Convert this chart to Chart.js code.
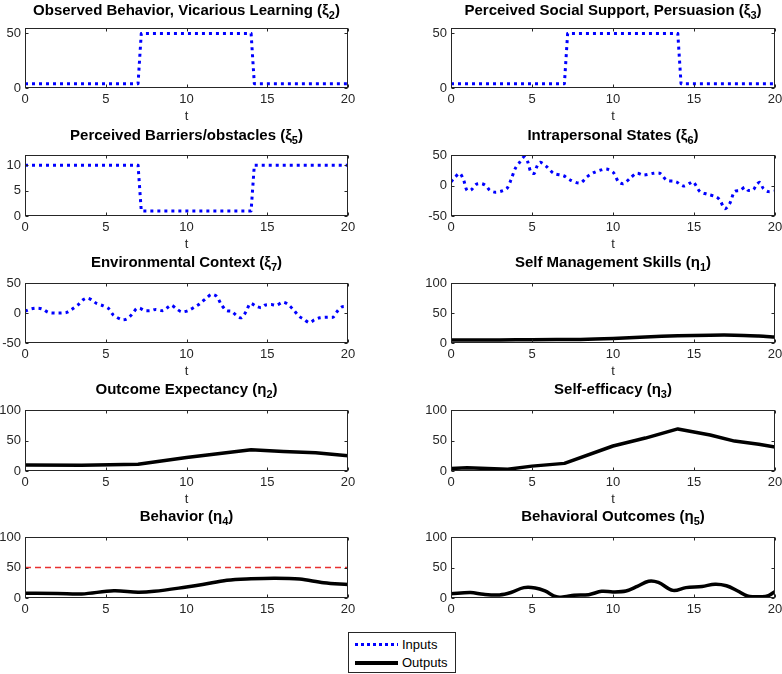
<!DOCTYPE html>
<html>
<head>
<meta charset="utf-8">
<script src="https://cdn.jsdelivr.net/npm/chart.js@4"></script>
<style>
  body { margin: 0; background: #fff; width: 782px; height: 674px; overflow: hidden; position: relative; font-family: "Liberation Sans", Arial, sans-serif; }
  canvas.panel { position: absolute; }
  #legend { position: absolute; left: 348px; top: 632px; width: 106px; height: 39px; border: 1px solid #262626; background: #fff; }
  #legend .row { position: absolute; left: 0; height: 16px; font-size: 13px; color: #000; }
  #legend .sw { position: absolute; left: 6px; width: 43px; }
  #legend .lbl { position: absolute; left: 53px; top: 0; line-height: 16px; white-space: nowrap; }
</style>
</head>
<body>

<div id="legend">
  <div class="row" style="top:4px"><div class="sw" style="top:6px;height:3px;background:repeating-linear-gradient(90deg,#0000ff 0 3px,transparent 3px 6px)"></div><span class="lbl">Inputs</span></div>
  <div class="row" style="top:22px"><div class="sw" style="top:6px;height:4px;background:#000"></div><span class="lbl">Outputs</span></div>
</div>

<script>
// time axis ticks
const xTicks = [0, 5, 10, 15, 20];

// step inputs
const stepT = [0, 7, 7.2, 14, 14.2, 20];
const observedBehavior = [4, 4, 50, 50, 4, 4];
const socialSupport = [4, 4, 50, 50, 4, 4];
const perceivedBarriers = [10, 10, 1, 1, 10, 10];

// noisy inputs
const intraT = [0, 0.27, 0.53, 0.78, 0.99, 1.25, 1.56, 1.9, 2.18, 2.4, 2.73, 3.14, 3.45, 3.7, 3.97, 4.27, 4.52, 4.73, 4.93, 5.14,
  5.3, 5.5, 5.9, 6.33, 6.95, 7.36, 7.97, 8.39, 8.8, 9.2, 9.6, 10.03, 10.34, 10.65, 11.06, 11.47, 11.88, 12.5, 12.9, 13.3,
  13.9, 14.35, 14.76, 14.96, 15.37, 15.79, 16.4, 16.6, 16.9, 17.2, 17.5, 17.84, 18.15, 18.35, 18.66, 18.87, 19.07, 19.28, 19.6, 20];
const intrapersonal = [6, 14, 20, 9, -8, -7, 2, 3, -1, -8, -11, -9, -5, 9, 28, 39, 47, 39, 22, 20,
  31, 38, 31, 20, 16, 9, 4, 14, 21, 25, 27, 21, 6, 3, 12, 20, 17, 20, 20, 9,
  6, -1, 4, 6, -10, -14, -19, -24, -38, -30, -10, -8, -3, -8, -7, 2, 5, -5, -10, -9];

const envT = [0, 0.41, 0.82, 1.13, 1.44, 1.86, 2.27, 2.58, 2.89, 3.3, 3.6, 3.86, 4.12, 4.43, 4.85, 5.15, 5.46, 5.98, 6.29, 6.6,
  6.9, 7.1, 7.4, 7.8, 8.1, 8.55, 8.87, 9.07, 9.38, 9.7, 10.1, 10.5, 10.8, 11.24, 11.55, 11.86, 12.16, 12.47, 12.78, 13.09,
  13.4, 13.7, 13.96, 14.33, 14.64, 14.85, 15.26, 15.57, 15.98, 16.3, 16.6, 17.0, 17.3, 17.6, 17.94, 18.25, 18.76, 19.07, 19.28, 19.6, 20];
const environment = [3, 7, 8, 6, 1, 0, 0, 1, 6, 14, 22, 25, 22, 16, 12, 8, -3, -11, -10, -3,
  7, 8, 4, 4, 6, 4, 10, 13, 7, 2, 4, 10, 15, 25, 31, 28, 14, 4, 3, -4,
  -8, 3, 16, 11, 9, 13, 14, 13, 18, 14, 6, -6, -11, -16, -11, -8, -7, -7, 1, 10, 11];

// outputs
const selfMgmtT = [0, 3, 5, 8, 10, 12, 14, 16, 17.5, 19, 20];
const selfMgmt = [5, 5, 5.5, 6, 7.5, 10, 12, 13, 13, 11.5, 10];
const outcomeExpT = [0, 3.5, 7, 10, 14, 16, 18, 20];
const outcomeExp = [10, 9.5, 11, 22, 35, 32, 30, 25];
const selfEffT = [0, 1, 3.5, 5, 7, 10, 12, 14, 16, 17.5, 19, 20];
const selfEff = [4, 5.5, 3, 8, 12.5, 41, 54, 69, 59, 49, 44, 39.5];
const behaviorT = [0, 2, 3.5, 5.5, 7, 8, 10, 11, 12.5, 14, 15.5, 17, 18.5, 20];
const behavior = [7.7, 7.5, 6.5, 12, 9.5, 11, 18, 22, 29, 31.5, 32.5, 31, 25, 22];
const behaviorTargetT = [0, 20];
const behaviorTarget = [50, 50];
const outcomesT = [0, 1.2, 2, 3, 3.7, 4.5, 5.2, 5.8, 6.5, 7, 7.6, 8.5, 9.3, 10, 10.8, 11.5, 12.2, 12.8, 13.7, 14.5,
  15.5, 16.3, 17, 17.7, 18.3, 19.2, 19.6, 20];
const behavioralOutcomes = [7, 9, 6, 5, 9, 17, 16.5, 11.5, 2, 2, 4.5, 5.5, 11, 10, 11.5, 19, 27.5, 25.5, 12.5, 17,
  19, 22.5, 20, 11.5, 3.5, 2, 4, 10.5];

const FONT = '"Liberation Sans", Arial, sans-serif';

// plot rectangles of the figure
const cols = [{ left: 25, right: 348, padL: 25, padR: 12 }, { left: 451, right: 775, padL: 50, padR: 7 }];
const rows = [
  { top: 28, bottom: 88, titleGap: 13 },
  { top: 155, bottom: 216, titleGap: 15 },
  { top: 283, bottom: 343, titleGap: 16 },
  { top: 410, bottom: 471, titleGap: 16 },
  { top: 537, bottom: 598, titleGap: 16 }
];

const inputStyle = { borderColor: '#0000ff', borderWidth: 3, borderDash: [3, 4] };
const outputStyle = { borderColor: '#000000', borderWidth: 3.5 };

const panels = [
  { row: 0, col: 0, title: ['Observed Behavior, Vicarious Learning (ξ', '2', ')'], yMin: 0, yMax: 55, yTicks: [0, 50],
    series: [{ t: stepT, v: observedBehavior, style: inputStyle }] },
  { row: 0, col: 1, title: ['Perceived Social Support, Persuasion (ξ', '3', ')'], yMin: 0, yMax: 55, yTicks: [0, 50],
    series: [{ t: stepT, v: socialSupport, style: inputStyle }] },
  { row: 1, col: 0, title: ['Perceived Barriers/obstacles (ξ', '5', ')'], yMin: 0, yMax: 12, yTicks: [0, 5, 10],
    series: [{ t: stepT, v: perceivedBarriers, style: inputStyle }] },
  { row: 1, col: 1, title: ['Intrapersonal States (ξ', '6', ')'], yMin: -50, yMax: 50, yTicks: [-50, 0, 50],
    series: [{ t: intraT, v: intrapersonal, style: inputStyle, tension: 0.3 }] },
  { row: 2, col: 0, title: ['Environmental Context (ξ', '7', ')'], yMin: -50, yMax: 50, yTicks: [-50, 0, 50],
    series: [{ t: envT, v: environment, style: inputStyle, tension: 0.3 }] },
  { row: 2, col: 1, title: ['Self Management Skills (η', '1', ')'], yMin: 0, yMax: 100, yTicks: [0, 50, 100],
    series: [{ t: selfMgmtT, v: selfMgmt, style: outputStyle, tension: 0.3 }] },
  { row: 3, col: 0, title: ['Outcome Expectancy (η', '2', ')'], yMin: 0, yMax: 100, yTicks: [0, 50, 100],
    series: [{ t: outcomeExpT, v: outcomeExp, style: outputStyle }] },
  { row: 3, col: 1, title: ['Self-efficacy (η', '3', ')'], yMin: 0, yMax: 100, yTicks: [0, 50, 100],
    series: [{ t: selfEffT, v: selfEff, style: outputStyle }] },
  { row: 4, col: 0, title: ['Behavior (η', '4', ')'], yMin: 0, yMax: 100, yTicks: [0, 50, 100], noXLabel: true,
    series: [
      { t: behaviorTargetT, v: behaviorTarget, style: { borderColor: 'rgb(232,48,48)', borderWidth: 1.3, borderDash: [6, 4] } },
      { t: behaviorT, v: behavior, style: outputStyle, tension: 0.35 }
    ] },
  { row: 4, col: 1, title: ['Behavioral Outcomes (η', '5', ')'], yMin: 0, yMax: 100, yTicks: [0, 50, 100], noXLabel: true,
    series: [{ t: outcomesT, v: behavioralOutcomes, style: outputStyle, tension: 0.35 }] }
];

// MATLAB-like box, inward ticks and title with subscript
const matlabAxes = {
  id: 'matlabAxes',
  afterDraw(chart, args, opts) {
    const { ctx, chartArea: a } = chart;
    const x = chart.scales.x, y = chart.scales.y;
    ctx.save();
    ctx.strokeStyle = '#262626';
    ctx.lineWidth = 1;
    const L = Math.round(a.left) + 0.5, R = Math.round(a.right) - 0.5;
    const T = Math.round(a.top) + 0.5, B = Math.round(a.bottom) - 0.5;
    ctx.strokeRect(L, T, R - L, B - T);
    ctx.beginPath();
    x.ticks.forEach(t => {
      const p = Math.round(x.getPixelForValue(t.value)) + 0.5;
      ctx.moveTo(p, B); ctx.lineTo(p, B - 3);
      ctx.moveTo(p, T); ctx.lineTo(p, T + 3);
    });
    y.ticks.forEach(t => {
      const p = Math.round(y.getPixelForValue(t.value)) + 0.5;
      ctx.moveTo(L, p); ctx.lineTo(L + 3, p);
      ctx.moveTo(R, p); ctx.lineTo(R - 3, p);
    });
    ctx.stroke();

    // title
    const [pre, sub, post] = opts.text;
    const mainFont = 'bold 15px ' + FONT, subFont = 'bold 11px ' + FONT;
    ctx.font = mainFont;
    const w1 = ctx.measureText(pre).width, w3 = ctx.measureText(post).width;
    ctx.font = subFont;
    const w2 = ctx.measureText(sub).width;
    const base = a.top - opts.gap;
    let tx = (a.left + a.right) / 2 - (w1 + w2 + w3) / 2;
    ctx.fillStyle = '#000';
    ctx.textBaseline = 'alphabetic';
    ctx.textAlign = 'left';
    ctx.font = mainFont; ctx.fillText(pre, tx, base); tx += w1;
    ctx.font = subFont; ctx.fillText(sub, tx, base + 4); tx += w2;
    ctx.font = mainFont; ctx.fillText(post, tx, base);
    ctx.restore();
  }
};

panels.forEach(p => {
  const c = cols[p.col], r = rows[p.row];
  const padT = p.row === 0 ? r.top : 30;
  const padB = 36;
  const canvas = document.createElement('canvas');
  canvas.className = 'panel';
  canvas.width = (c.right - c.left) + c.padL + c.padR;
  canvas.height = (r.bottom - r.top) + padT + padB;
  canvas.style.left = (c.left - c.padL) + 'px';
  canvas.style.top = (r.top - padT) + 'px';
  document.body.insertBefore(canvas, document.getElementById('legend'));

  new Chart(canvas, {
    type: 'line',
    data: {
      datasets: p.series.map(s => ({
        data: s.t.map((tv, i) => ({ x: tv, y: s.v[i] })),
        ...s.style,
        borderCapStyle: 'butt',
        borderJoinStyle: 'round',
        pointRadius: 0,
        fill: false,
        tension: s.tension || 0
      }))
    },
    options: {
      responsive: false,
      animation: false,
      layout: { padding: { top: padT, right: c.padR, left: 0, bottom: 0 } },
      plugins: {
        legend: { display: false },
        tooltip: { enabled: false },
        matlabAxes: { text: p.title, gap: r.titleGap }
      },
      scales: {
        x: {
          type: 'linear', min: 0, max: 20,
          afterBuildTicks: s => { s.ticks = xTicks.map(v => ({ value: v })); },
          afterFit: s => { s.height = padB; s.paddingLeft = 0; s.paddingRight = 0; },
          ticks: { font: { family: FONT, size: 13 }, color: '#262626', padding: 4, maxRotation: 0, autoSkip: false },
          grid: { display: false, drawTicks: false },
          border: { display: false },
          title: { display: !p.noXLabel, text: 't', font: { family: FONT, size: 13 }, color: '#262626', padding: 0 }
        },
        y: {
          type: 'linear', min: p.yMin, max: p.yMax,
          afterBuildTicks: s => { s.ticks = p.yTicks.map(v => ({ value: v })); },
          afterFit: s => { s.width = c.padL; s.paddingTop = 0; s.paddingBottom = 0; },
          ticks: { font: { family: FONT, size: 13 }, color: '#262626', padding: 4 },
          grid: { display: false, drawTicks: false },
          border: { display: false }
        }
      }
    },
    plugins: [matlabAxes]
  });
});
</script>
</body>
</html>
